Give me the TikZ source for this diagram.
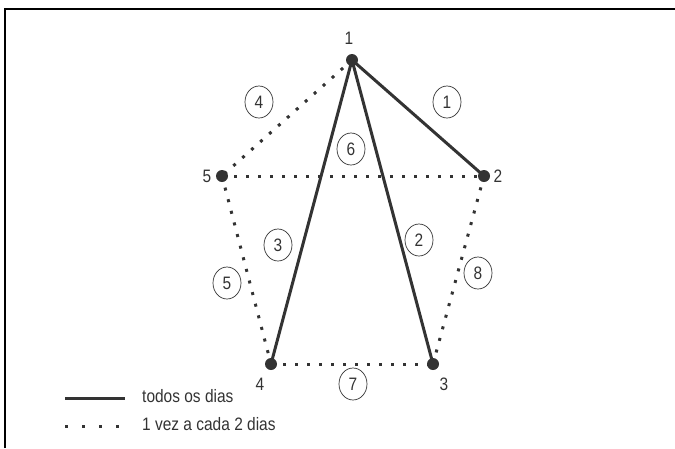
\documentclass[tikz,border=0pt]{standalone}
\usepackage{fontspec}
\setmainfont{Liberation Sans}[FakeStretch=0.86]
\usetikzlibrary{shapes.geometric,backgrounds}
\definecolor{ink}{HTML}{333333}
\begin{document}
\begin{tikzpicture}[x=1pt,y=-1pt,
  font=\fontsize{18}{20}\selectfont,
  vertex/.style={circle,fill=ink,inner sep=0pt,minimum size=12pt},
  daily/.style={draw=ink,line width=3pt},
  alternate/.style={draw=ink,line width=3pt,dash pattern=on 3pt off 9pt},
  tag/.style={ellipse,draw=ink,line width=0.7pt,minimum width=28pt,minimum height=32pt,inner sep=0pt,text=ink},
  lbl/.style={text=ink,inner sep=0pt}]
\useasboundingbox (0,0) rectangle (675,448);
\draw[line width=2pt,black] (5,448) -- (5,9) -- (675,9);

% vertices
\node[vertex] (v1) at (352,60) {};
\node[vertex] (v2) at (484,176) {};
\node[vertex] (v3) at (433,364) {};
\node[vertex] (v4) at (271,364) {};
\node[vertex] (v5) at (222,176) {};

\node[lbl] (l1) at (349,38) {1};
\node[lbl] (l2) at (498,176) {2};
\node[lbl] (l3) at (444,384) {3};
\node[lbl] (l4) at (260,384) {4};
\node[lbl] (l5) at (207,176) {5};

\begin{scope}[on background layer]
\draw[daily] (v1.center) -- (v2.center);
\draw[daily] (v1.center) -- (v3.center);
\draw[daily] (v1.center) -- (v4.center);
\draw[alternate] (v1.center) -- (v5.center);
\draw[alternate] (v5.center) -- (v2.center);
\draw[alternate] (v5.center) -- (v4.center);
\draw[alternate] (v4.center) -- (v3.center);
\draw[alternate] (v3.center) -- (v2.center);
\end{scope}

% edge tags
\node[tag] (t1) at (447,102) {1};
\node[tag] (t2) at (419,240) {2};
\node[tag] (t3) at (278,245) {3};
\node[tag] (t4) at (259,102) {4};
\node[tag] (t5) at (227,283) {5};
\node[tag] (t6) at (351,149) {6};
\node[tag] (t7) at (353,384) {7};
\node[tag] (t8) at (478,273) {8};

% legend
\coordinate (a1) at (65,398);
\coordinate (a2) at (125,398);
\coordinate (b1) at (65,426);
\coordinate (b2) at (122,426);
\draw[daily] (a1) -- (a2);
\draw[draw=ink,line width=3pt,dash pattern=on 3pt off 14pt] (b1) -- (b2);
\node[lbl,anchor=west] (k1) at (142,396) {todos os dias};
\node[lbl,anchor=west] (k2) at (142,424) {1 vez a cada 2 dias};
\end{tikzpicture}
\end{document}
